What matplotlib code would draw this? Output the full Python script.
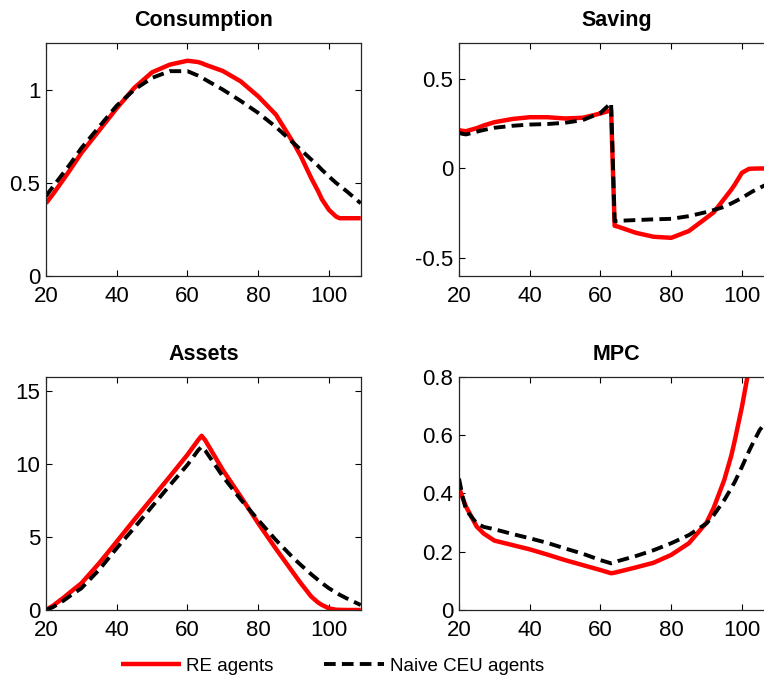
import matplotlib
matplotlib.use('Agg')
import matplotlib.pyplot as plt

plt.rcParams['font.family'] = ['Liberation Sans', 'DejaVu Sans']

# --- 数据 ---
ages = [20, 21, 22, 25, 27, 30, 35, 40, 45, 50, 55, 60, 63, 64, 65, 70, 75, 80, 85, 90, 92, 95, 97, 98,
        100, 102, 103, 105, 109]

cons_re = [0.39, 0.415, 0.44, 0.52, 0.575, 0.66, 0.78, 0.90, 1.01, 1.093, 1.134, 1.155, 1.148, 1.142, 1.134,
           1.10, 1.045, 0.964, 0.866, 0.713, 0.645, 0.525, 0.453, 0.412, 0.355, 0.319, 0.31, 0.31, 0.31]
cons_ceu = [0.427, 0.455, 0.48, 0.555, 0.605, 0.686, 0.80, 0.914, 1.00, 1.063, 1.099, 1.099, 1.075, 1.066,
            1.054, 1.00, 0.94, 0.875, 0.80, 0.713, 0.678, 0.625, 0.59, 0.57, 0.534, 0.50, 0.485, 0.455, 0.39]

saving_re = [0.214, 0.21, 0.208, 0.225, 0.24, 0.258, 0.276, 0.286, 0.286, 0.279, 0.283, 0.307, 0.325, -0.32,
             -0.325, -0.359, -0.381, -0.387, -0.349, -0.275, -0.245, -0.169, -0.118, -0.089, -0.024, -0.002,
             -0.001, 0.0, 0.0]
saving_ceu = [0.199, 0.193, 0.19, 0.205, 0.215, 0.227, 0.238, 0.245, 0.248, 0.255, 0.27, 0.31, 0.366, -0.294,
              -0.292, -0.288, -0.284, -0.281, -0.266, -0.243, -0.232, -0.214, -0.195, -0.185, -0.164, -0.14,
              -0.128, -0.108, -0.07]

assets_re = [0, 0.15, 0.3, 0.85, 1.25, 1.83, 3.2, 4.69, 6.2, 7.67, 9.15, 10.65, 11.65, 11.95, 11.65, 9.6, 7.8,
             5.95, 4.2, 2.52, 1.85, 0.92, 0.5, 0.35, 0.11, 0.02, 0.01, 0, 0]
assets_ceu = [0, 0.1, 0.2, 0.65, 1.0, 1.49, 2.75, 4.24, 5.65, 7.1, 8.55, 9.96, 10.95, 11.2, 10.95, 9.16, 7.6,
              6.18, 4.8, 3.55, 3.1, 2.45, 2.05, 1.85, 1.49, 1.2, 1.05, 0.8, 0.34]

mpc_re = [0.42, 0.385, 0.354, 0.286, 0.262, 0.238, 0.223, 0.208, 0.19, 0.171, 0.154, 0.137, 0.126, 0.128,
          0.131, 0.146, 0.162, 0.189, 0.229, 0.30, 0.35, 0.446, 0.53, 0.583, 0.697, 0.83, 0.9, 1.0, 1.3]
mpc_ceu = [0.451, 0.39, 0.343, 0.297, 0.285, 0.277, 0.261, 0.246, 0.23, 0.211, 0.193, 0.171, 0.16, 0.163,
           0.168, 0.185, 0.205, 0.229, 0.257, 0.297, 0.325, 0.377, 0.418, 0.44, 0.491, 0.545, 0.57, 0.617, 0.68]

panels = [
    ('Consumption', cons_re, cons_ceu, (0, 1.25), [0, 0.5, 1], ['0', '0.5', '1']),
    ('Saving', saving_re, saving_ceu, (-0.6, 0.7), [-0.5, 0, 0.5], ['-0.5', '0', '0.5']),
    ('Assets', assets_re, assets_ceu, (0, 16), [0, 5, 10, 15], ['0', '5', '10', '15']),
    ('MPC', mpc_re, mpc_ceu, (0, 0.8), [0, 0.2, 0.4, 0.6, 0.8], ['0', '0.2', '0.4', '0.6', '0.8']),
]
x_ticks = [20, 40, 60, 80, 100]

# 坐标轴位置 (右列超出画布, 和原图一样被裁掉)
positions = [
    [0.0602, 0.5965, 0.412, 0.3406],
    [0.6008, 0.5965, 0.412, 0.3406],
    [0.0602, 0.1082, 0.412, 0.3410],
    [0.6008, 0.1082, 0.412, 0.3410],
]

fig = plt.figure(figsize=(7.64, 6.84), dpi=100)

for pos, (title, re_vals, ceu_vals, ylim, yticks, ylabels) in zip(positions, panels):
    ax = fig.add_axes(pos)
    l_re, = ax.plot(ages, re_vals, color='#ff0000', lw=3.2, label='RE agents', solid_capstyle='butt')
    l_ceu, = ax.plot(ages, ceu_vals, color='black', lw=2.8, dashes=(3, 1.6), label='Naive CEU agents')
    ax.set_xlim(20, 109)
    ax.set_ylim(*ylim)
    ax.set_xticks(x_ticks)
    ax.set_yticks(yticks)
    ax.set_yticklabels(ylabels)
    ax.set_title(title, fontsize=15.5, fontweight='bold', pad=12)
    ax.tick_params(direction='in', top=True, right=True, length=4, width=0.8, labelsize=16)
    ax.tick_params(axis='x', pad=7)
    ax.tick_params(axis='y', pad=4)
    for s in ax.spines.values():
        s.set_linewidth(0.9)
        s.set_color('#262626')

fig.legend(handles=[l_re, l_ceu], loc='center', bbox_to_anchor=(0.435, 0.026), ncol=2,
           frameon=False, fontsize=13.5, handlelength=3.2, handletextpad=0.3,
           columnspacing=2.7)

fig.savefig('out.png', dpi=100)
